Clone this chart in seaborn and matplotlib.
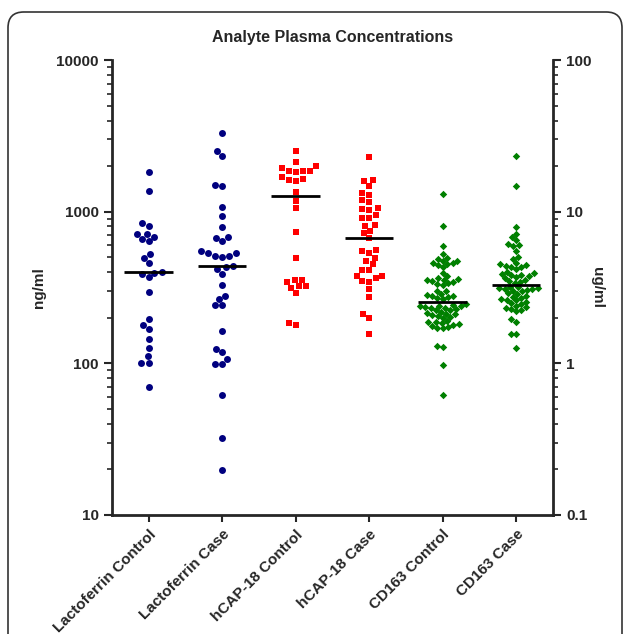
import matplotlib
matplotlib.use('Agg')
import matplotlib.pyplot as plt
from matplotlib.patches import FancyBboxPatch
from matplotlib.ticker import FuncFormatter, LogLocator
import numpy as np
import pandas as pd
import seaborn as sns

GROUPS = ['Lactoferrin Control', 'Lactoferrin Case', 'hCAP-18 Control',
          'hCAP-18 Case', 'CD163 Control', 'CD163 Case']

# ng/ml (left axis)
lacto_control = [1820, 1377, 837, 804, 712, 712, 684, 660, 637, 525, 499, 462, 401,
                 397, 387, 372, 296, 196, 178, 168, 145, 126, 111, 100, 100, 70]
lacto_case = [3296, 2506, 2345, 1507, 1468, 1068, 941, 796, 684, 670, 637, 552, 531,
              531, 512, 512, 504, 440, 429, 418, 391, 327, 276, 265, 242, 242, 164,
              125, 119, 107, 99.5, 99.5, 61.5, 32.3, 19.8]
hcap_control = [2530, 2118, 2003, 1933, 1868, 1868, 1848, 1820, 1687, 1644, 1619, 1586,
                1342, 1182, 1057, 738, 499, 355, 353, 345, 323, 323, 316, 290, 185, 179]
hcap_case = [2285, 1627, 1603, 1486, 1328, 1295, 1194, 1158, 1052, 1041, 1026, 951, 908,
             904, 816, 800, 749, 719, 670, 558, 553, 531, 499, 474, 451, 414, 412, 378,
             376, 363, 347, 345, 310, 274, 211, 200, 156]

# ug/ml (right axis)
cd163_control = [13.1, 8.0, 5.9, 5.3,
                 4.94, 4.86, 4.74, 4.62, 4.56, 4.44, 4.29, 4.50, 4.70,
                 3.92, 3.76,
                 3.63, 3.59, 3.53, 3.47, 3.38, 3.33, 3.28, 3.43, 3.55,
                 2.98, 3.01, 2.86, 2.81, 2.79, 2.76, 2.72, 2.69, 2.65,
                 2.45, 2.39, 2.36, 2.33, 2.28, 2.24, 2.31, 2.37, 2.42, 2.26, 2.40,
                 2.19, 2.16, 2.13, 2.11, 2.08, 2.06, 2.02, 2.00,
                 1.90, 1.88, 1.86, 1.84, 1.81, 1.79, 1.77, 1.74, 1.72, 1.70,
                 1.31, 1.29, 0.98, 0.62]
cd163_case = [23.2, 14.9, 7.9, 7.1, 6.8,
              6.5, 6.1, 6.0, 5.9, 5.5, 5.0, 4.9,
              4.6, 4.5, 4.45, 4.4, 4.35, 4.3, 4.2,
              4.0, 3.95, 3.9, 3.85, 3.8, 3.75, 3.7, 3.65,
              3.55, 3.5, 3.45, 3.4,
              3.2, 3.15, 3.1, 3.05, 3.0, 3.02, 3.08, 3.12, 3.18,
              2.9, 2.85, 2.8, 2.75, 2.7, 2.65, 2.6, 2.62,
              2.55, 2.5, 2.45, 2.4, 2.35, 2.3, 2.28, 2.25, 2.2,
              1.95, 1.88, 1.57, 1.55, 1.26]

BLUE, RED, GREEN = '#00007f', '#ff0000', '#008000'


def long_frame(names, series):
    rows = [(n, v) for n, vals in zip(names, series) for v in vals]
    return pd.DataFrame(rows, columns=['group', 'value'])


sns.set_style('ticks')
plt.rcParams['font.family'] = ['Liberation Sans', 'DejaVu Sans']
plt.rcParams['font.weight'] = 'bold'
plt.rcParams['axes.labelweight'] = 'bold'
plt.rcParams['axes.titleweight'] = 'bold'

fig = plt.figure(figsize=(6.29, 6.34), dpi=100)
ax = fig.add_axes([0.178, 0.188, 0.701, 0.717])
ax.set_yscale('log')
ax.set_ylim(10, 10000)
ax2 = ax.twinx()
ax2.set_yscale('log')
ax2.set_ylim(0.1, 100)

left_sets = [
    (GROUPS[0:2], [lacto_control, lacto_case], BLUE, 'o', 5.0),
    (GROUPS[2:4], [hcap_control, hcap_case], RED, 's', 5.0),
]
for names, series, color, marker, size in left_sets:
    sns.swarmplot(data=long_frame(names, series), x='group', y='value', order=GROUPS,
                  ax=ax, color=color, marker=marker, size=size, linewidth=0)
    for name, vals in zip(names, series):
        i = GROUPS.index(name)
        ax.hlines(np.median(vals), i - 0.33, i + 0.33, colors='black', lw=2, zorder=5)

cd_names = GROUPS[4:6]
cd_series = [cd163_control, cd163_case]
sns.swarmplot(data=long_frame(cd_names, cd_series), x='group', y='value', order=GROUPS,
              ax=ax2, color=GREEN, marker='D', size=3.8, linewidth=0)
for name, vals in zip(cd_names, cd_series):
    i = GROUPS.index(name)
    ax2.hlines(np.median(vals), i - 0.33, i + 0.33, colors='black', lw=2, zorder=5)

ax.set_xlim(-0.5, 5.5)
fmt = FuncFormatter(lambda v, p: f'{v:g}')
for a in (ax, ax2):
    a.yaxis.set_major_locator(LogLocator(base=10))
    a.yaxis.set_minor_locator(LogLocator(base=10, subs=np.arange(2, 10)))
    a.yaxis.set_major_formatter(fmt)
    a.yaxis.set_minor_formatter(FuncFormatter(lambda v, p: ''))
    a.tick_params(axis='y', which='major', length=6, width=1.5, labelsize=11)
    a.tick_params(axis='y', which='minor', length=3.5, width=1.2)
    a.spines['top'].set_visible(False)
    a.set_xlabel('')

ax.spines['right'].set_visible(False)
for s in ('left', 'bottom'):
    ax.spines[s].set_linewidth(2)
ax2.spines['right'].set_linewidth(2)
for s in ('left', 'bottom'):
    ax2.spines[s].set_visible(False)

ax.set_xticks(range(len(GROUPS)))
ax.set_xticklabels(GROUPS, rotation=45, ha='right', rotation_mode='anchor', fontsize=11)
ax.tick_params(axis='x', length=5, width=1.5, pad=4)

ax.set_ylabel('ng/ml', fontsize=11)
ax.yaxis.set_label_coords(-0.15, 0.5)
ax2.set_ylabel('ug/ml', fontsize=11, rotation=270, va='center')
ax2.yaxis.set_label_coords(1.1, 0.5)
ax.set_title('Analyte Plasma Concentrations', fontsize=11.5, pad=13)

frame = FancyBboxPatch((8 / 629, -0.1), 614 / 629, 1.1 - 12 / 634,
                       boxstyle='round,pad=0,rounding_size=0.025',
                       transform=fig.transFigure, fill=False, ec='#333333', lw=1.2)
fig.patches.append(frame)

fig.savefig('out.png', dpi=100)
